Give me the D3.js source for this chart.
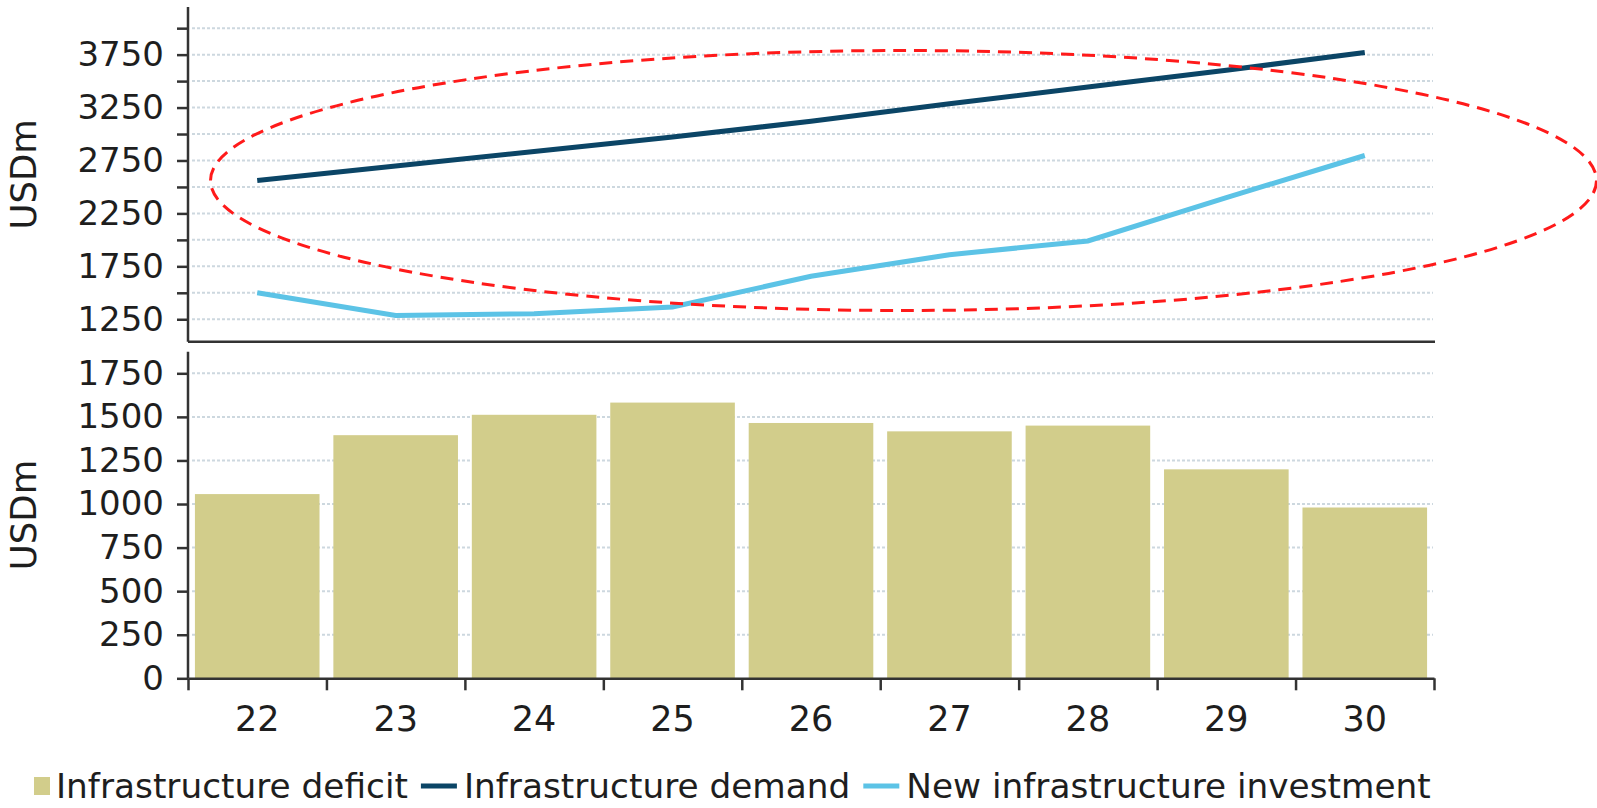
<!DOCTYPE html>
<html>
<head>
<meta charset="utf-8">
<script src="https://cdn.jsdelivr.net/npm/d3@7/dist/d3.min.js"></script>
<style>
  html, body { margin: 0; padding: 0; background: #fff; }
  svg { display: block; font-family: "DejaVu Sans", Verdana, sans-serif; }
</style>
</head>
<body>
<svg id="chart" width="1597" height="808"></svg>
<script>
// ---- data ----
const years = ["22", "23", "24", "25", "26", "27", "28", "29", "30"];
const deficit = [1057, 1395, 1512, 1582, 1465, 1417, 1450, 1199, 980];
const demand = [2560, 2697, 2835, 2972, 3120, 3285, 3445, 3603, 3770];
const investment = [1500, 1285, 1302, 1366, 1656, 1860, 1990, 2400, 2797];
const topTicks = [1250, 1500, 1750, 2000, 2250, 2500, 2750, 3000, 3250, 3500, 3750, 4000];
const topLabels = [1250, 1750, 2250, 2750, 3250, 3750];
const bottomTicks = [0, 250, 500, 750, 1000, 1250, 1500, 1750];
const legendItems = ["Infrastructure deficit", "Infrastructure demand", "New infrastructure investment"];

// ---- styles ----
const C = {
  bar: "#d2cd8b",
  demand: "#0b4566",
  invest: "#5cc3e6",
  axis: "#333333",
  grid: "#cdd8df",
  text: "#1e1e1e",
  ring: "#ff1a1a"
};

const svg = d3.select("#chart");
const L = 188, R = 1434;
const topY = d3.scaleLinear().domain([1038, 4200]).range([341.7, 7]);
const botY = d3.scaleLinear().domain([0, 1874]).range([678.3, 351.7]);
const x = d3.scaleBand().domain(years).range([L, R]).paddingInner(0.1).paddingOuter(0.05);
const bx = d3.scaleLinear().domain([0, years.length]).range([L, R]);

// ---- gridlines ----
function grid(scale, vals) {
  svg.append("g").selectAll("line").data(vals).join("line")
    .attr("x1", L + 4).attr("x2", R - 1)
    .attr("y1", d => scale(d)).attr("y2", d => scale(d))
    .attr("stroke", C.grid).attr("stroke-width", 2)
    .attr("stroke-dasharray", "3,2");
}
grid(topY, topTicks);
grid(botY, bottomTicks.filter(d => d > 0));

// ---- bars ----
svg.append("g").selectAll("rect").data(years).join("rect")
  .attr("x", d => x(d))
  .attr("width", x.bandwidth())
  .attr("y", (d, i) => botY(deficit[i]))
  .attr("height", (d, i) => botY(0) - botY(deficit[i]))
  .attr("fill", C.bar);

// ---- lines ----
const line = d3.line().x((d, i) => x(years[i]) + x.bandwidth() / 2).y(d => topY(d));
svg.append("path").datum(demand).attr("d", line)
  .attr("fill", "none").attr("stroke", C.demand).attr("stroke-width", 5);
svg.append("path").datum(investment).attr("d", line)
  .attr("fill", "none").attr("stroke", C.invest).attr("stroke-width", 5);

// ---- axes ----
const fmt = d => topLabels.includes(d) ? String(d) : "";
const gTop = svg.append("g").attr("transform", `translate(${L},0)`)
  .call(d3.axisLeft(topY).tickValues(topTicks).tickFormat(fmt).tickSize(11).tickPadding(13));
const gBot = svg.append("g").attr("transform", `translate(${L},0)`)
  .call(d3.axisLeft(botY).tickValues(bottomTicks).tickFormat(d3.format("d")).tickSize(11).tickPadding(13));
[gTop, gBot].forEach(g => {
  g.select(".domain").remove();
  g.selectAll(".tick line").attr("stroke", C.axis).attr("stroke-width", 2.5);
  g.selectAll(".tick text").attr("fill", C.text).style("font-size", "34px")
    .style("font-family", "'DejaVu Sans', Verdana, sans-serif");
});
// axis lines
svg.append("line").attr("x1", L).attr("x2", L).attr("y1", topY.range()[1]).attr("y2", topY.range()[0])
  .attr("stroke", C.axis).attr("stroke-width", 2.5);
svg.append("line").attr("x1", L).attr("x2", R + 1).attr("y1", topY.range()[0]).attr("y2", topY.range()[0])
  .attr("stroke", C.axis).attr("stroke-width", 2.5);
svg.append("line").attr("x1", L).attr("x2", L).attr("y1", botY.range()[1]).attr("y2", botY.range()[0])
  .attr("stroke", C.axis).attr("stroke-width", 2.5);

// x axis
const gx = svg.append("g").attr("transform", `translate(0,${botY(0)})`)
  .call(d3.axisBottom(bx).tickValues(d3.range(years.length + 1)).tickFormat("").tickSize(12).tickSizeOuter(0));
gx.select(".domain").attr("stroke", C.axis).attr("stroke-width", 2.5);
gx.selectAll(".tick line").attr("stroke", C.axis).attr("stroke-width", 2.5);
const gxl = svg.append("g").attr("transform", `translate(0,${botY(0)})`)
  .call(d3.axisBottom(x).tickSize(0).tickPadding(28));
gxl.select(".domain").remove();
gxl.selectAll(".tick text").attr("fill", C.text).style("font-size", "35px")
  .style("font-family", "'DejaVu Sans', Verdana, sans-serif");

// y titles
function ytitle(scale) {
  const r = scale.range();
  const cy = (r[0] + r[1]) / 2;
  svg.append("text").text("USDm")
    .attr("transform", `translate(36,${cy}) rotate(-90)`)
    .attr("text-anchor", "middle")
    .attr("fill", C.text).style("font-size", "35.5px");
}
ytitle(topY);
ytitle(botY);

// ---- annotation ring ----
svg.append("ellipse")
  .attr("cx", 903.5).attr("cy", 180.5).attr("rx", 693).attr("ry", 130)
  .attr("fill", "none").attr("stroke", C.ring).attr("stroke-width", 3)
  .attr("stroke-dasharray", "13,8");

// ---- legend ----
const lg = svg.append("g").attr("transform", "translate(0,798)");
let lx = 34;
legendItems.forEach((name, i) => {
  if (i === 0) {
    lg.append("rect").attr("x", lx).attr("y", -21).attr("width", 16).attr("height", 18).attr("fill", C.bar);
    lx += 22;
  } else {
    lg.append("line").attr("x1", lx).attr("x2", lx + 36).attr("y1", -12).attr("y2", -12)
      .attr("stroke", i === 1 ? C.demand : C.invest).attr("stroke-width", 5);
    lx += 43;
  }
  const t = lg.append("text").attr("x", lx).attr("y", 0).text(name)
    .attr("fill", C.text).style("font-size", "34.3px");
  lx += t.node().getComputedTextLength() + 13;
});
</script>
</body>
</html>
